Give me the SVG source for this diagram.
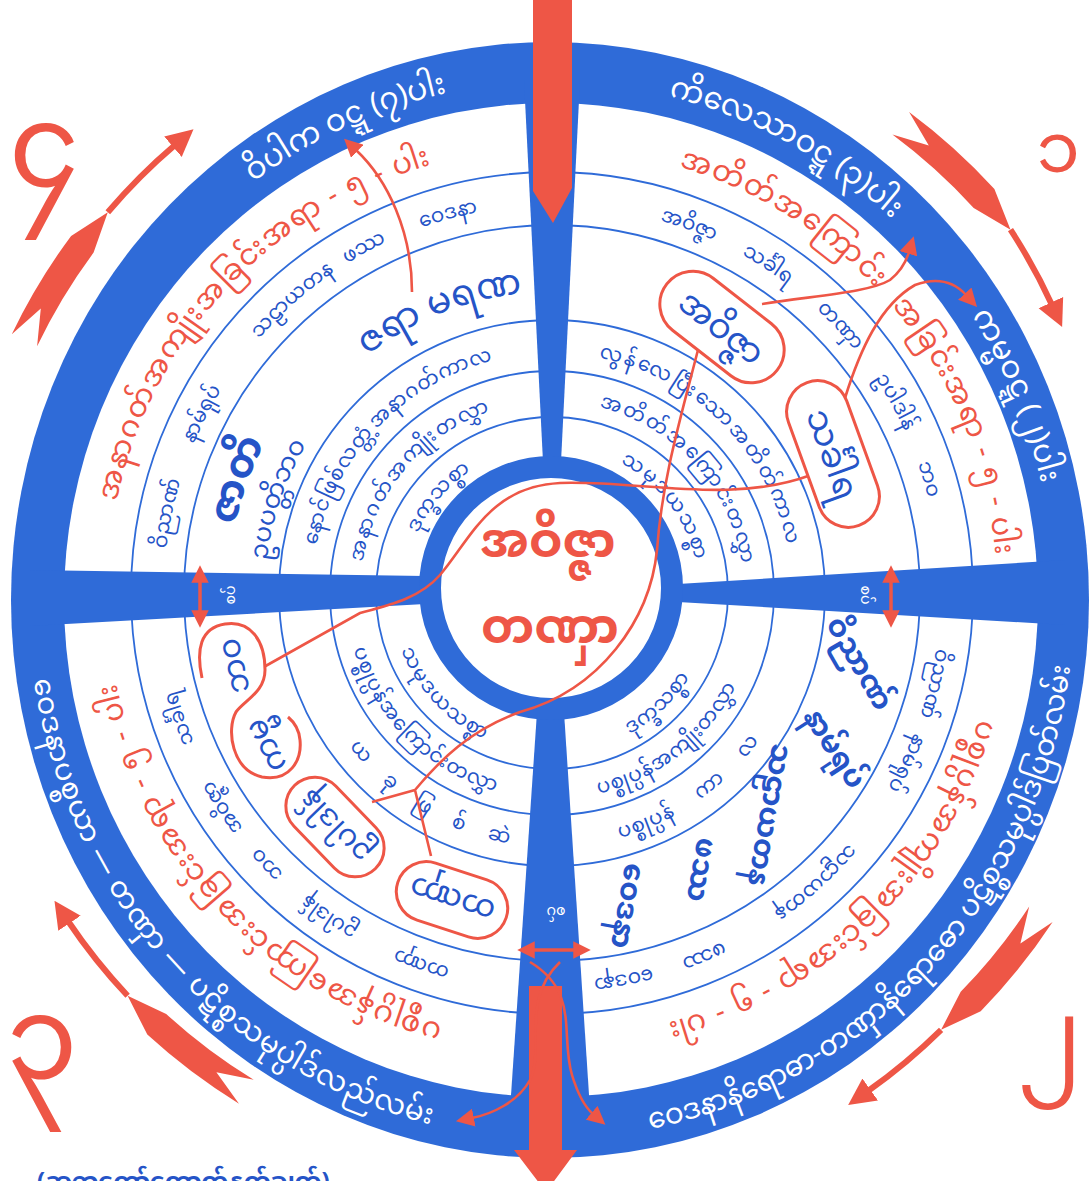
<svg xmlns="http://www.w3.org/2000/svg" xmlns:xlink="http://www.w3.org/1999/xlink" width="1092" height="1181" viewBox="0 0 1092 1181">
<defs>
<style>
.t{font-family:'Noto Sans Myanmar','Padauk','Myanmar Text','Myanmar3','Noto Sans',sans-serif}
.blue{fill:#2f6bd8}
.ln{fill:none;stroke:#2f6bd8;stroke-width:1.8}
.red{fill:#ee5646}
.rl{fill:none;stroke:#ee5646;stroke-width:2.6}
.rm{fill:none;stroke:#ee5646;stroke-width:3.5}
.rb{fill:none;stroke:#ee5646;stroke-width:6}
.ov{fill:#fff;stroke:#ee5646;stroke-width:3}
.wt{fill:#fff}
.bt{fill:#2554c7}
.rt{fill:#ee5646}
</style>
<marker id="ah" viewBox="0 0 10 10" refX="1" refY="5" markerWidth="7" markerHeight="7" orient="auto-start-reverse"><path d="M0,0 L10,5 L0,10 z" fill="#ee5646"/></marker>
<marker id="ahm" viewBox="0 0 10 10" refX="1" refY="5" markerWidth="5" markerHeight="5.5" orient="auto-start-reverse"><path d="M0,0 L10,5 L0,10 z" fill="#ee5646"/></marker>
<marker id="ahb" viewBox="0 0 10 10" refX="1" refY="5" markerWidth="4.5" markerHeight="5" orient="auto"><path d="M0,0 L10,5 L0,10 z" fill="#ee5646"/></marker>
<path id="bcw" d="M0,503 A503,503 0 1 1 0,-503 A503,503 0 1 1 0,503"/>
<path id="bccw" d="M0,-523 A523,523 0 1 0 0,523 A523,523 0 1 0 0,-523"/>
<path id="cw445" d="M552,1038 A445,445 0 1 1 552,148 A445,445 0 1 1 552,1038"/>
<path id="cw388" d="M552,981 A388,388 0 1 1 552,205 A388,388 0 1 1 552,981"/>
<path id="cw301" d="M552,894 A301,301 0 1 1 552,292 A301,301 0 1 1 552,894"/>
<path id="cw324" d="M552,917 A324,324 0 1 1 552,269 A324,324 0 1 1 552,917"/>
<path id="cw287" d="M552,880 A287,287 0 1 1 552,306 A287,287 0 1 1 552,880"/>
<path id="cw240" d="M552,833 A240,240 0 1 1 552,353 A240,240 0 1 1 552,833"/>
<path id="cw192" d="M552,785 A192,192 0 1 1 552,401 A192,192 0 1 1 552,785"/>
<path id="cw147" d="M552,740 A147,147 0 1 1 552,446 A147,147 0 1 1 552,740"/>
<path id="ccw254" d="M552,339 A254,254 0 1 0 552,847 A254,254 0 1 0 552,339"/>
<path id="ccw206" d="M552,387 A206,206 0 1 0 552,799 A206,206 0 1 0 552,387"/>
<path id="ccw161" d="M552,432 A161,161 0 1 0 552,754 A161,161 0 1 0 552,432"/>
</defs>
<rect width="1092" height="1181" fill="#fff"/>

<g id="wheel">
<ellipse cx="550" cy="600" rx="539" ry="558" class="blue"/>
<ellipse cx="551" cy="600" rx="487" ry="497" fill="#fff"/>
<circle cx="552" cy="593" r="421" class="ln"/>
<circle cx="552" cy="593" r="368" class="ln"/>
<circle cx="552" cy="593" r="273" class="ln"/>
<circle cx="552" cy="593" r="222" class="ln"/>
<circle cx="552" cy="593" r="176" class="ln"/>
<polygon class="blue" points="524,80 580,80 561,462 543,462"/>
<polygon class="blue" points="537,712 564,712 590,1110 510,1110"/>
<polygon class="blue" points="30,570 30,626 425,604 425,576"/>
<polygon class="blue" points="678,584 678,602 1065,625 1065,560"/>
<circle cx="551" cy="588" r="121" fill="#fff" stroke="#2f6bd8" stroke-width="22"/>
</g>

<g id="axis-arrows">
<polygon class="red" points="533,-2 572,-2 572,188 553,223 533,191"/>
<polygon class="red" points="529,986 562,986 562,1150 577,1150 546,1192 514,1150 529,1150"/>
</g>

<g id="band-text" class="t wt" font-size="30">
<g transform="translate(551,600) scale(1,1.03)">
<text><textPath xlink:href="#bcw" href="#bcw" startOffset="1368.7" text-anchor="middle">ဝိပါက ဝဋ္ဋ (၇)ပါး</textPath></text>
<text><textPath xlink:href="#bcw" href="#bcw" startOffset="1827.3" text-anchor="middle">ကိလေသာဝဋ္ဋ (၃)ပါး</textPath></text>
<text><textPath xlink:href="#bcw" href="#bcw" startOffset="2167.6" text-anchor="middle">ကမ္မဝဋ္ဋ (၂)ပါး</textPath></text>
<text font-size="28" letter-spacing="0.8"><textPath xlink:href="#bccw" href="#bccw" startOffset="1210.8" text-anchor="middle">ဝေဒနာပစ္စယာ — တဏှာ — ပဋိစ္စသမုပ္ပါဒ်လည်လမ်း</textPath></text>
<text font-size="28"><textPath xlink:href="#bccw" href="#bccw" startOffset="2071.1" text-anchor="middle">ဝေဒနာနိရောဓာ-တဏှာနိရောဓော ပဋိစ္စသမုပ္ပါဒ်ပြတ်လမ်း</textPath></text>
</g>
</g>

<g id="red-arcs" class="t rt" font-size="29" letter-spacing="1.5">
<text><textPath xlink:href="#cw445" href="#cw445" startOffset="1034" text-anchor="middle">အနာဂတ်အကျိုးအခြင်းအရာ - ၅ - ပါး</textPath></text>
<text><textPath xlink:href="#cw445" href="#cw445" startOffset="1644" text-anchor="middle">အတိတ်အကြောင်း</textPath></text>
<text><textPath xlink:href="#cw445" href="#cw445" startOffset="1922" text-anchor="middle">အခြင်းအရာ - ၅ - ပါး</textPath></text>
<text><textPath xlink:href="#cw445" href="#cw445" startOffset="2452" text-anchor="middle">ပစ္စုပ္ပန်အကျိုးအခြင်းအရာ - ၅ - ပါး</textPath></text>
<text><textPath xlink:href="#cw445" href="#cw445" startOffset="360" text-anchor="middle">ပစ္စုပ္ပန်အကြောင်းအခြင်းအရာ - ၅ - ပါး</textPath></text>
</g>

<g id="small-ring" class="t bt" font-size="20">
<text><textPath xlink:href="#cw388" href="#cw388" startOffset="688.7" text-anchor="middle">ဝိညာဏ်</textPath></text>
<text><textPath xlink:href="#cw388" href="#cw388" startOffset="793.0" text-anchor="middle">နာမ်ရုပ်</textPath></text>
<text><textPath xlink:href="#cw388" href="#cw388" startOffset="937.2" text-anchor="middle">သဠာယတန</textPath></text>
<text><textPath xlink:href="#cw388" href="#cw388" startOffset="1025.3" text-anchor="middle">ဖဿ</textPath></text>
<text><textPath xlink:href="#cw388" href="#cw388" startOffset="1114.6" text-anchor="middle">ဝေဒနာ</textPath></text>
<text><textPath xlink:href="#cw388" href="#cw388" startOffset="1357.1" text-anchor="middle">အဝိဇ္ဇာ</textPath></text>
<text><textPath xlink:href="#cw388" href="#cw388" startOffset="1444.5" text-anchor="middle">သင်္ခါရ</textPath></text>
<text><textPath xlink:href="#cw388" href="#cw388" startOffset="1537.9" text-anchor="middle">တဏှာ</textPath></text>
<text><textPath xlink:href="#cw388" href="#cw388" startOffset="1630.6" text-anchor="middle">ဥပါဒါန်</textPath></text>
<text><textPath xlink:href="#cw388" href="#cw388" startOffset="1714.0" text-anchor="middle">ဘဝ</textPath></text>
<text><textPath xlink:href="#cw388" href="#cw388" startOffset="1918.5" text-anchor="middle">ဝိညာဏ်</textPath></text>
<text><textPath xlink:href="#cw388" href="#cw388" startOffset="2001.8" text-anchor="middle">နာမ်ရုပ်</textPath></text>
<text><textPath xlink:href="#cw388" href="#cw388" startOffset="2150.8" text-anchor="middle">သဠာယတန</textPath></text>
<text><textPath xlink:href="#cw388" href="#cw388" startOffset="2283.5" text-anchor="middle">ဖဿ</textPath></text>
<text><textPath xlink:href="#cw388" href="#cw388" startOffset="2366.1" text-anchor="middle">ဝေဒနာ</textPath></text>
<text><textPath xlink:href="#cw388" href="#cw388" startOffset="131.4" text-anchor="middle">တဏှာ</textPath></text>
<text><textPath xlink:href="#cw388" href="#cw388" startOffset="233.6" text-anchor="middle">ဥပါဒါန်</textPath></text>
<text><textPath xlink:href="#cw388" href="#cw388" startOffset="314.2" text-anchor="middle">ဘဝ</textPath></text>
<text><textPath xlink:href="#cw388" href="#cw388" startOffset="385.7" text-anchor="middle">အဝိဇ္ဇာ</textPath></text>
<text><textPath xlink:href="#cw388" href="#cw388" startOffset="483.5" text-anchor="middle">သင်္ခါရ</textPath></text>
</g>

<g id="inner-rings" class="t bt" font-size="20" letter-spacing="1">
<text><textPath xlink:href="#cw240" href="#cw240" startOffset="559.6" text-anchor="middle">နောင်ဖြစ်လတ္တံ့အနာဂတ်ကာလ</textPath></text>
<text letter-spacing="2.5"><textPath xlink:href="#cw240" href="#cw240" startOffset="942.3" text-anchor="middle">လွန်လေပြီးသောအတိတ်ကာလ</textPath></text>
<text letter-spacing="2"><textPath xlink:href="#cw192" href="#cw192" startOffset="437" text-anchor="middle">အနာဂတ်အကျိုးတလွှာ</textPath></text>
<text letter-spacing="2"><textPath xlink:href="#cw192" href="#cw192" startOffset="763.8" text-anchor="middle">အတိတ်အကြောင်းတလွှာ</textPath></text>
<text><textPath xlink:href="#cw147" href="#cw147" startOffset="334.6" text-anchor="middle">ဒုက္ခသစ္စာ</textPath></text>
<text letter-spacing="2"><textPath xlink:href="#cw147" href="#cw147" startOffset="597" text-anchor="middle">သမုဒယသစ္စာ</textPath></text>
<text word-spacing="22"><textPath xlink:href="#ccw254" href="#ccw254" startOffset="953.1" text-anchor="middle">ပစ္စုပ္ပန် ကာ လ</textPath></text>
<text word-spacing="18"><textPath xlink:href="#ccw254" href="#ccw254" startOffset="659.4" text-anchor="middle">ယ ခု ဖြ စ် ဆဲ</textPath></text>
<text><textPath xlink:href="#ccw206" href="#ccw206" startOffset="784.1" text-anchor="middle">ပစ္စုပ္ပန်အကျိုးတလွှာ</textPath></text>
<text><textPath xlink:href="#ccw206" href="#ccw206" startOffset="485.2" text-anchor="middle">ပစ္စုပ္ပန်အကြောင်းတလွှာ</textPath></text>
<text><textPath xlink:href="#ccw161" href="#ccw161" startOffset="628.6" text-anchor="middle">ဒုက္ခသစ္စာ</textPath></text>
<text letter-spacing="1.5"><textPath xlink:href="#ccw161" href="#ccw161" startOffset="374" text-anchor="middle">သမုဒယသစ္စာ</textPath></text>
</g>

<g id="future-results" class="t bt">
<text font-size="36"><textPath xlink:href="#cw301" href="#cw301" startOffset="831.1" text-anchor="middle">ဇရာ မရဏ</textPath></text>
<text font-size="40" font-weight="bold"><textPath xlink:href="#cw324" href="#cw324" startOffset="620.9" text-anchor="middle">ဇာတိ</textPath></text>
<text font-size="25"><textPath xlink:href="#cw287" href="#cw287" startOffset="545.0" text-anchor="middle">ဥပပတ္တိဘဝ</textPath></text>
</g>

<g id="present-results" class="t bt" font-size="29" font-weight="bold" text-anchor="middle">
<text transform="translate(860,663) rotate(60)" dy="10">ဝိညာဏ်</text>
<text transform="translate(835,748) rotate(57)" dy="10">နာမ်ရုပ်</text>
<text transform="translate(770,815) rotate(100)" dy="10">သဠာယတန</text>
<text transform="translate(702,870) rotate(100)" dy="10">ဖဿ</text>
<text transform="translate(628,906) rotate(100)" dy="10">ဝေဒနာ</text>
</g>

<g id="center" class="t rt" font-size="48" font-weight="bold" text-anchor="middle">
<text x="548" y="557">အဝိဇ္ဇာ</text>
<text x="550" y="643">တဏှာ</text>
</g>

<g id="spoke-labels" class="t wt" font-size="14" text-anchor="middle">
<text transform="translate(230,595) rotate(-90)" dy="5">စပ်</text>
<text transform="translate(866,595) rotate(90)" dy="5">စပ်</text>
<text transform="translate(556,912) rotate(180)" dy="5">စပ်</text>
</g>

<g id="connectors">
<path class="rl" marker-end="url(#ah)" d="M412,292 C412,232 388,180 356,150"/>
<path class="rl" marker-end="url(#ah)" d="M762,304 C820,295 870,292 890,280 C900,272 906,262 909,252"/>
<path class="rl" marker-end="url(#ah)" d="M845,398 C860,350 880,305 915,285 C940,276 956,284 966,295"/>
<path class="rl" d="M699,346 C680,420 662,480 657,550 C650,620 600,690 520,712 C470,730 440,760 415,790 M415,790 L372,802 M415,790 L431,856"/>
<path class="rl" d="M811,475 C730,505 640,480 560,483 C490,486 470,540 440,575 C420,598 390,605 360,613 L262,668"/>
<path class="rm" marker-start="url(#ahm)" marker-end="url(#ahm)" d="M533,950 L575,950"/>
<path class="rm" marker-start="url(#ahm)" marker-end="url(#ahm)" d="M200,581 L200,612"/>
<path class="rm" marker-start="url(#ahm)" marker-end="url(#ahm)" d="M891,581 L891,612"/>
<path class="rl" marker-end="url(#ah)" d="M560,962 C520,1000 545,1050 530,1080 C518,1102 492,1114 472,1118"/>
<path class="rl" marker-end="url(#ah)" d="M530,962 C580,992 560,1035 572,1075 C579,1098 586,1108 593,1114"/>
</g>

<g id="node-avijja-past">
<rect class="ov" x="-70" y="-33" width="140" height="66" rx="33" transform="translate(722,327) rotate(38)"/>
<text class="t bt" font-size="34" text-anchor="middle" transform="translate(722,327) rotate(38)" dy="12">အဝိဇ္ဇာ</text>
</g>
<g id="node-sankhara-past">
<rect class="ov" x="-76" y="-31" width="152" height="62" rx="31" transform="translate(833,454) rotate(70)"/>
<text class="t bt" font-size="34" text-anchor="middle" transform="translate(833,454) rotate(70)" dy="12">သင်္ခါရ</text>
</g>
<g id="node-kammabhava">
<path class="ov" d="M202,678 C196,650 200,628 225,624 C250,620 265,640 265,670 C265,692 245,700 236,712 C226,730 232,770 262,777 C290,782 302,760 300,740 C299,728 294,722 288,717"/>
<text class="t bt" font-size="31" text-anchor="middle" transform="translate(233,666) rotate(257)" dy="11">ဘဝ</text>
<text class="t bt" font-size="31" text-anchor="middle" transform="translate(265,746) rotate(242)" dy="11">ကမ္မ</text>
</g>
<g id="node-upadana">
<rect class="ov" x="-58" y="-29" width="116" height="58" rx="29" transform="translate(335,827) rotate(46)"/>
<text class="t bt" font-size="29" text-anchor="middle" transform="translate(335,827) rotate(226)" dy="10">ဥပါဒါန်</text>
</g>
<g id="node-tanha">
<rect class="ov" x="-57" y="-30" width="114" height="60" rx="30" transform="translate(452,900) rotate(18)"/>
<text class="t bt" font-size="31" text-anchor="middle" transform="translate(452,900) rotate(198)" dy="11">တဏှာ</text>
</g>

<g id="outer-arrows">
<path class="red" d="M11.8,334.2 A599,599 0 0 1 71.1,235.9 L107.8,212.3 L93.6,252.6 A571,571 0 0 0 37.1,346.3 L40.8,308.5 Z"/>
<path class="rb" marker-end="url(#ahb)" d="M107.8,212.3 A585,585 0 0 1 175,145"/>
<path class="red" d="M909.1,112.1 A599,599 0 0 1 994.4,189.1 L1010.5,229.7 L973.7,208 A571,571 0 0 0 892.4,134.6 L928.8,145.5 Z"/>
<path class="rb" marker-end="url(#ahb)" d="M1010.5,229.7 A583,583 0 0 1 1052,305"/>
<path class="red" d="M1052.6,921.9 A599,599 0 0 1 980.7,1011.3 L941.1,1029.8 L960.7,991.8 A571,571 0 0 0 1029.2,906.5 L1020.4,943.4 Z"/>
<path class="rb" marker-end="url(#ahb)" d="M941.1,1029.8 A588,588 0 0 1 868,1091"/>
<path class="red" d="M239,1103.7 A599,599 0 0 1 147.3,1034.6 L127.6,995.7 L166.2,1014 A571,571 0 0 0 253.7,1079.8 L216.4,1072.2 Z"/>
<path class="rb" marker-end="url(#ahb)" d="M127.6,995.7 A585,585 0 0 1 68,921"/>
</g>

<g id="corner-numbers" class="t rt" text-anchor="middle">
<text x="44" y="186" font-size="115">၄</text>
<text x="1058" y="172" font-size="70">၁</text>
<text x="1050" y="1066" font-size="94">၂</text>
<text x="42" y="1078" font-size="115">၃</text>
</g>

<text class="t bt" x="37" y="1189" font-size="24" font-weight="bold">(ဆရာတော်ကောက်နုတ်ချက်)</text>
</svg>
